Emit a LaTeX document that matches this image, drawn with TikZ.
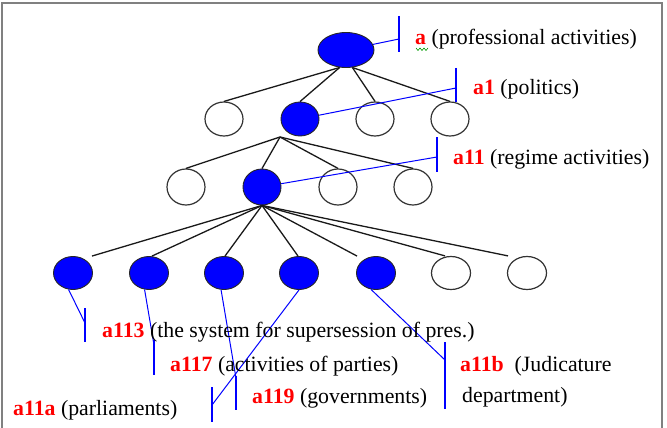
\documentclass[tikz,border=0pt]{standalone}
\usepackage{fontspec}
\setmainfont{Liberation Serif}
\usetikzlibrary{shapes.geometric}
\newcommand\redid[1]{\textcolor{red}{\textbf{#1}}}
\begin{document}
\begin{tikzpicture}[x=1pt,y=-1pt,
  full/.style={ellipse, draw=black!85, line width=0.9pt, fill=blue, inner sep=0pt, minimum width=38pt, minimum height=34pt},
  hollow/.style={ellipse, draw=black!80, line width=1.2pt, fill=white, inner sep=0pt, minimum width=38pt, minimum height=34pt},
  lvthree/.style={minimum width=38pt, minimum height=36pt},
  lvfour/.style={minimum width=39pt, minimum height=33pt},
  edge/.style={draw=black!90, line width=1.3pt},
  tag/.style={draw=blue, line width=1pt},
  bar/.style={draw=blue, line width=1.5pt},
  lbl/.style={anchor=base west, inner sep=0pt, font=\fontsize{21.8}{24}\selectfont}
]
\useasboundingbox (0,0) rectangle (667,428);
\draw[black!50, line width=1.5pt] (2,430) -- (2,3) -- (662,3) -- (662,430);

% nodes
\node[full, minimum width=56pt, minimum height=35pt] (n0) at (346,50) {};
\node[hollow] (m1) at (224,119) {};
\node[full]   (m2) at (300,119) {};
\node[hollow] (m3) at (375,119) {};
\node[hollow] (m4) at (450,119) {};
\node[hollow, lvthree] (p1) at (186,187) {};
\node[full, lvthree]   (p2) at (262,187) {};
\node[hollow, lvthree] (p3) at (338,187) {};
\node[hollow, lvthree] (p4) at (413,187) {};
\node[full, lvfour]   (c1) at (73,273) {};
\node[full, lvfour]   (c2) at (149,273) {};
\node[full, lvfour]   (c3) at (224,273) {};
\node[full, lvfour]   (c4) at (299,273) {};
\node[full, lvfour]   (c5) at (376,273) {};
\node[hollow, lvfour] (c6) at (451,273) {};
\node[hollow, lvfour] (c7) at (527,273) {};

% tree edges
\draw[edge] (n0.-110) -- (m1.north);
\draw[edge] (n0.-110) -- (m2.north);
\draw[edge] (n0.-70) -- (m3.north);
\draw[edge] (n0.-70) -- (m4.north);
\coordinate (ap) at (280,137);
\draw[edge] (ap) -- (p1.north);
\draw[edge] (ap) -- (p2.north);
\draw[edge] (ap) -- (p3.north);
\draw[edge] (ap) -- (p4.north);
\draw[edge] (p2.south) -- ([xshift=19pt]c1.north);
\draw[edge] (p2.south) -- ([xshift=3pt]c2.north);
\draw[edge] (p2.south) -- ([xshift=1pt]c3.north);
\draw[edge] (p2.south) -- ([xshift=-1pt]c4.north);
\draw[edge] (p2.south) -- ([xshift=-19pt]c5.north);
\draw[edge] (p2.south) -- ([xshift=-6pt]c6.north);
\draw[edge] (p2.south) -- ([xshift=-19pt]c7.north);

% tags: a
\coordinate (ta) at (399,39);
\draw[tag] (n0) -- (ta);
\draw[bar] (399,16) -- (399,52);
% a1
\coordinate (ta1) at (456,88);
\draw[tag] (m2) -- (ta1);
\draw[bar] (456,68) -- (456,102);
% a11
\coordinate (ta11) at (437,157);
\draw[tag] (p2) -- (ta11);
\draw[bar] (437,137) -- (437,172);
% a113
\coordinate (ta113) at (85,323);
\draw[tag] (c1.-105) -- (ta113);
\draw[bar] (85,308) -- (85,342);
% a117
\coordinate (ta117) at (154,345);
\draw[tag] (c2.-105) -- (ta117);
\draw[bar] (154,340) -- (154,375);
% a119
\coordinate (ta119) at (236,378);
\draw[tag] (c3.-100) -- (ta119);
\draw[bar] (236,376) -- (236,410);
% a11a
\coordinate (ta11a) at (212,405);
\draw[tag] (c4.south) -- (ta11a);
\draw[bar] (212,387) -- (212,422);
% a11b
\coordinate (ta11b) at (445,360);
\draw[tag] (c5.-107) -- (ta11b);
\draw[bar] (445,342) -- (445,409);

% labels
\node[lbl] (la) at (415,45) {\redid{a} (professional activities)};
\draw[green!60!black, line width=0.6pt] (416,48) -- (418,50.5) -- (420,48) -- (422,50.5) -- (424,48) -- (426,50.5) -- (428,48);
\node[lbl] (la1) at (473,95) {\redid{a1} (politics)};
\node[lbl] (la11) at (453,164) {\redid{a11} (regime activities)};
\node[lbl] (la113) at (102,337) {\redid{a113} (the system for supersession of pres.)};
\node[lbl] (la117) at (170,371) {\redid{a117} (activities of parties)};
\node[lbl] (la119) at (252,403) {\redid{a119} (governments)};
\node[lbl] (la11a) at (13,415) {\redid{a11a} (parliaments)};
\node[lbl] (la11b) at (460,371) {\redid{a11b}\ \ (Judicature};
\node[lbl] (ldep) at (462,402) {department)};
\end{tikzpicture}
\end{document}
